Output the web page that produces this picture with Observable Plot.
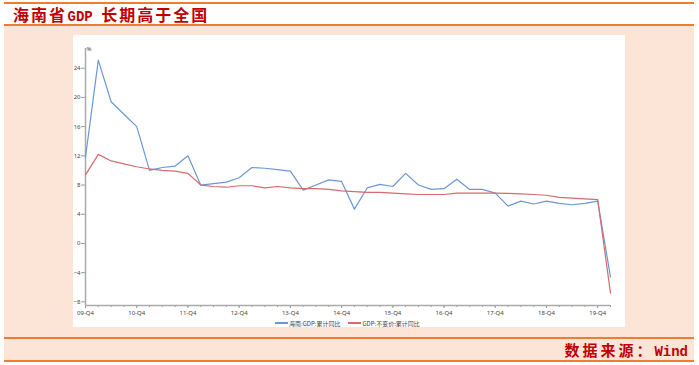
<!DOCTYPE html>
<html>
<head>
<meta charset="utf-8">
<script src="https://cdn.jsdelivr.net/npm/d3@7"></script>
<script src="https://cdn.jsdelivr.net/npm/@observablehq/plot@0.6"></script>
<style>
  html, body { margin: 0; padding: 0; background: #fff; }
  body { width: 699px; height: 365px; position: relative; overflow: hidden; font-family: "Noto Sans CJK SC", "Noto Sans", sans-serif; }
  .hline { position: absolute; left: 4px; width: 690px; height: 2px; background: #ED7D31; }
  .title { position: absolute; left: 13px; top: 4px; height: 20px; line-height: 20px; font-size: 16px; font-weight: bold; color: #C00000; letter-spacing: 2px; white-space: nowrap; font-family: "Noto Sans CJK SC", sans-serif; }
  .mono { font-family: "Liberation Mono", monospace; letter-spacing: 0px; font-size: 14px; }
  .peach { position: absolute; left: 4px; width: 690px; top: 26px; height: 335px; background: #FCE4D6; }
  .panel { position: absolute; left: 73px; top: 35px; width: 552px; height: 292px; background: #fff; }
  .footer { position: absolute; right: 11px; top: 340px; height: 20px; line-height: 20px; font-size: 15px; font-weight: bold; color: #C00000; letter-spacing: 3px; white-space: nowrap; }
  .legend { position: absolute; left: 275px; top: 318px; height: 10px; display: flex; align-items: center; font-size: 6px; color: #444; white-space: nowrap; }
  .legend .sw { display: inline-block; width: 13px; height: 1.2px; margin-right: 1px; }
  .legend .item { display: flex; align-items: center; margin-right: 8px; }
</style>
</head>
<body>
<div class="hline" style="top:2px"></div>
<div class="title">海南省<span style="font-size:2px;letter-spacing:0"> </span><span class="mono">GDP</span><span style="letter-spacing:0;margin-right:5px"> </span>长期高于全国</div>
<div class="peach"></div>
<div class="hline" style="top:24px"></div>
<div class="hline" style="top:337px"></div>
<div class="hline" style="top:360px"></div>
<div class="panel" id="chart"></div>
<div class="legend" id="legend"></div>
<div class="footer">数据来源：<span class="mono" style="font-weight:bold;font-size:14px;letter-spacing:0">Wind</span></div>
<script>
const quarters = ["09-Q4",
  "10-Q1","10-Q2","10-Q3","10-Q4",
  "11-Q1","11-Q2","11-Q3","11-Q4",
  "12-Q1","12-Q2","12-Q3","12-Q4",
  "13-Q1","13-Q2","13-Q3","13-Q4",
  "14-Q1","14-Q2","14-Q3","14-Q4",
  "15-Q1","15-Q2","15-Q3","15-Q4",
  "16-Q1","16-Q2","16-Q3","16-Q4",
  "17-Q1","17-Q2","17-Q3","17-Q4",
  "18-Q1","18-Q2","18-Q3","18-Q4",
  "19-Q1","19-Q2","19-Q3","19-Q4",
  "20-Q1"];
const hainan = [11.8,25.1,19.4,17.7,16.0,10.0,10.4,10.6,12.0,8.0,8.2,8.4,9.0,10.4,10.3,10.1,9.9,7.3,8.0,8.7,8.5,4.7,7.6,8.1,7.8,9.6,8.0,7.4,7.5,8.8,7.4,7.4,6.9,5.1,5.8,5.4,5.8,5.5,5.3,5.5,5.8,-4.6];
const national = [9.4,12.2,11.3,10.9,10.5,10.2,10.0,9.9,9.6,8.0,7.8,7.7,7.9,7.9,7.6,7.8,7.6,7.5,7.5,7.4,7.2,7.1,7.0,7.0,6.9,6.8,6.7,6.7,6.7,6.9,6.9,6.9,6.9,6.85,6.8,6.7,6.6,6.3,6.2,6.1,6.0,-6.8];
const seriesNames = ["海南:GDP:累计同比", "GDP:不变价:累计同比"];
const seriesColors = ["#6A98D4", "#D66A6D"];
const yTicks = [-8,-4,0,4,8,12,16,20,24];
const yUnit = "%";
const yDomain = [-8.5, 26.7];

const idx = quarters.map((q, i) => i);
const majorIdx = idx.filter(i => quarters[i].endsWith("Q4"));
const rowsH = idx.map(i => ({i, v: hainan[i]}));
const rowsN = idx.map(i => ({i, v: national[i]}));

const chart = Plot.plot({
  width: 552,
  height: 292,
  marginLeft: 12,
  marginRight: 15,
  marginTop: 13,
  marginBottom: 22,
  x: {domain: [0, quarters.length - 1], label: null},
  y: {domain: yDomain, label: null},
  style: {fontSize: "6px", fontFamily: "'Noto Sans', sans-serif", color: "#444", background: "white", overflow: "visible"},
  marks: [
    Plot.axisX({ticks: idx, tickFormat: () => "", tickSize: 2, stroke: "#999", label: null}),
    Plot.axisX({ticks: majorIdx, tickFormat: i => quarters[i], tickSize: 3, tickPadding: 2, stroke: "#999", label: null}),
    Plot.axisY({ticks: yTicks, tickSize: 4, tickPadding: 1, stroke: "#999", label: null}),
    Plot.ruleX([0], {stroke: "#aaa", strokeWidth: 1.5}),
    Plot.ruleY([yDomain[0]], {stroke: "#aaa", strokeWidth: 1.5}),
    Plot.text([yUnit], {x: 0, y: yDomain[1], text: d => d, textAnchor: "start", dx: 1, dy: 1, fontSize: 6, fill: "#444"}),
    Plot.line(rowsH, {x: "i", y: "v", stroke: seriesColors[0], strokeWidth: 1.2}),
    Plot.line(rowsN, {x: "i", y: "v", stroke: seriesColors[1], strokeWidth: 1.2})
  ]
});
document.getElementById("chart").appendChild(chart);

const legend = document.getElementById("legend");
seriesNames.forEach((name, k) => {
  const item = document.createElement("div");
  item.className = "item";
  const sw = document.createElement("span");
  sw.className = "sw";
  sw.style.background = seriesColors[k];
  item.appendChild(sw);
  const t = document.createElement("span");
  t.textContent = name;
  item.appendChild(t);
  legend.appendChild(item);
});
</script>
</body>
</html>
